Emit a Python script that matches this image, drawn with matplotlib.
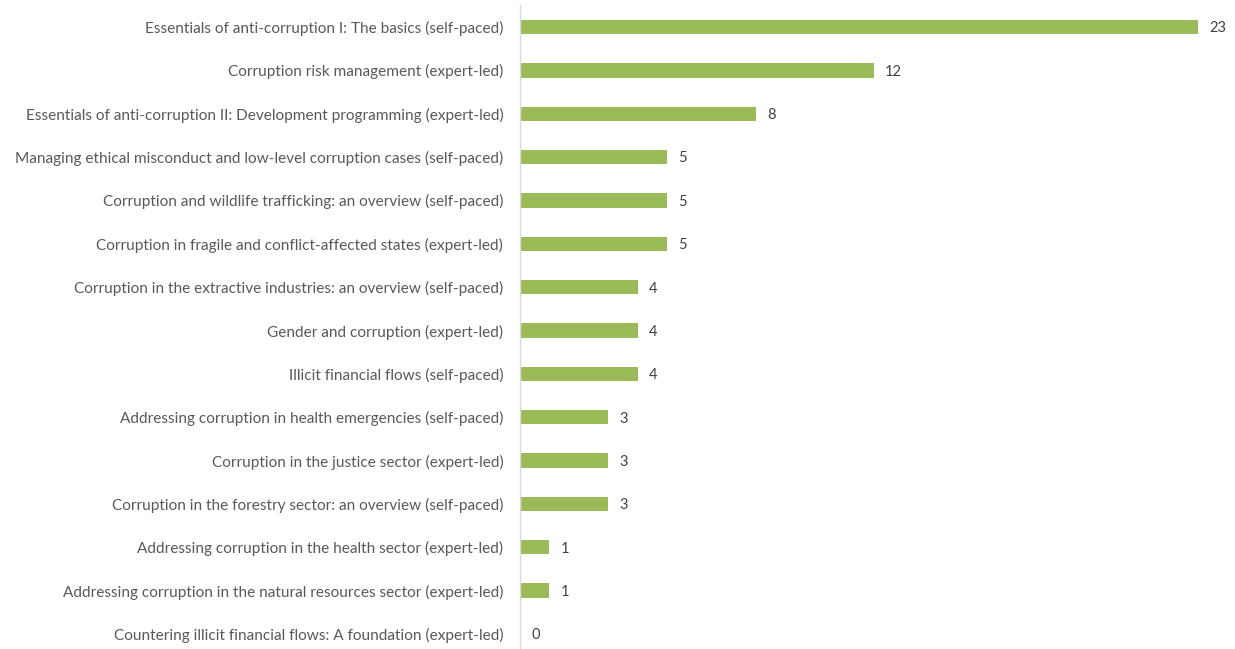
import matplotlib
matplotlib.use("Agg")
import matplotlib.pyplot as plt

courses = [
    "Essentials of anti-corruption I: The basics (self-paced)",
    "Corruption risk management (expert-led)",
    "Essentials of anti-corruption II: Development programming (expert-led)",
    "Managing ethical misconduct and low-level corruption cases (self-paced)",
    "Corruption and wildlife trafficking: an overview (self-paced)",
    "Corruption in fragile and conflict-affected states (expert-led)",
    "Corruption in the extractive industries: an overview (self-paced)",
    "Gender and corruption (expert-led)",
    "Illicit financial flows (self-paced)",
    "Addressing corruption in health emergencies (self-paced)",
    "Corruption in the justice sector (expert-led)",
    "Corruption in the forestry sector: an overview (self-paced)",
    "Addressing corruption in the health sector (expert-led)",
    "Addressing corruption in the natural resources sector (expert-led)",
    "Countering illicit financial flows: A foundation (expert-led)",
]
counts = [23, 12, 8, 5, 5, 5, 4, 4, 4, 3, 3, 3, 1, 1, 0]

BAR_COLOR = "#9BBB59"
LABEL_COLOR = "#595959"
VALUE_COLOR = "#404040"

plt.rcParams["font.family"] = ["Lato", "DejaVu Sans"]

fig = plt.figure(figsize=(12.35, 6.49), dpi=100)
ax = fig.add_axes([520 / 1235, -0.0103, 678 / 1235, 1.0021])

n = len(courses)
ypos = list(range(n))[::-1]
ax.barh(ypos, counts, height=0.33, color=BAR_COLOR)

ax.set_xlim(0, 23)
ax.set_ylim(-0.5, n - 0.5)
ax.set_yticks(ypos)
ax.set_yticklabels(courses, fontsize=11.1, color=LABEL_COLOR)
ax.tick_params(axis="y", length=0, pad=12)
ax.set_xticks([])

for y, v in zip(ypos, counts):
    ax.annotate(str(v), xy=(v, y), xytext=(8, -1), textcoords="offset points",
                ha="left", va="center", fontsize=10.5, color=VALUE_COLOR,
                annotation_clip=False)

for side in ("top", "right", "bottom"):
    ax.spines[side].set_visible(False)
ax.spines["left"].set_color("#D9D9D9")
ax.spines["left"].set_linewidth(1.0)

fig.savefig("out.png", dpi=100, facecolor="white")
